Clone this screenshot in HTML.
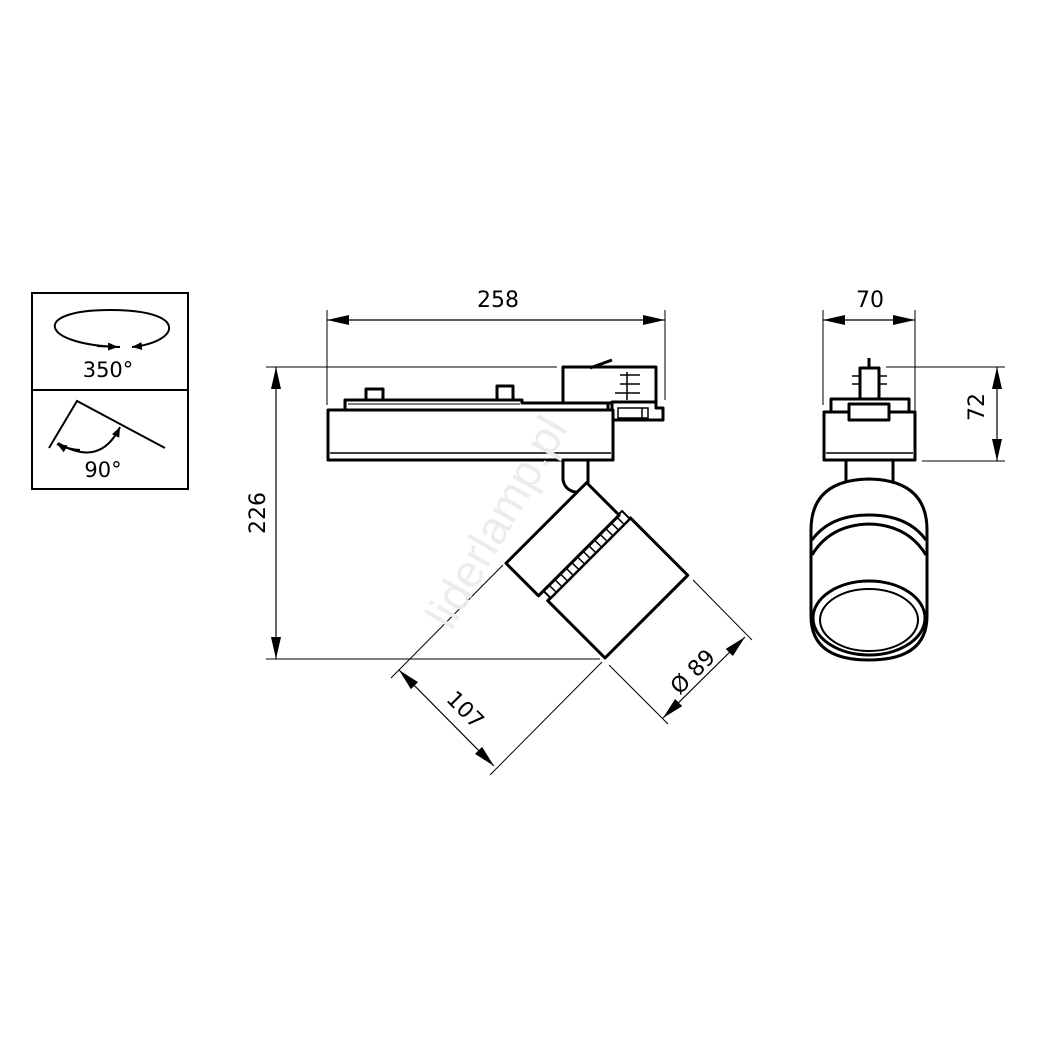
<!DOCTYPE html>
<html><head><meta charset="utf-8"><style>
html,body{margin:0;padding:0;background:#fff;}
svg{display:block;}
text{font-family:"DejaVu Sans","Liberation Sans",sans-serif;fill:#000;}
</style></head><body>
<svg width="1037" height="1037" viewBox="0 0 1037 1037" xmlns="http://www.w3.org/2000/svg">
<defs>
<marker id="ar" viewBox="0 0 22 10" refX="22" refY="5" markerWidth="22" markerHeight="10" markerUnits="userSpaceOnUse" orient="auto-start-reverse"><path d="M0,0 L22,5 L0,10 z" fill="#000"/></marker>
<marker id="sa" viewBox="0 0 10 8" refX="10" refY="4" markerWidth="10" markerHeight="8" markerUnits="userSpaceOnUse" orient="auto"><path d="M0,0 L10,4 L0,8 z" fill="#000"/></marker>
</defs>

<!-- legend box -->
<rect x="32" y="293" width="156" height="196" fill="none" stroke="#000" stroke-width="2"/>
<line x1="32" y1="390" x2="188" y2="390" stroke="#000" stroke-width="2"/>
<path d="M120,347 C40,345 30,310 110,310 C190,310 180,342 132,347" fill="none" stroke="#000" stroke-width="2" marker-end="url(#sa)"/>
<path d="M97,346 L118,347" stroke="#000" stroke-width="2" marker-end="url(#sa)"/>
<text x="108" y="377" font-size="21" text-anchor="middle">350°</text>
<polyline points="49,448 77,401 165,448" fill="none" stroke="#000" stroke-width="2"/>
<path d="M58,443 Q100,468 120,427" fill="none" stroke="#000" stroke-width="2" marker-end="url(#sa)"/>
<path d="M80,450 Q66,449 57,444" fill="none" stroke="#000" stroke-width="2" marker-end="url(#sa)"/>
<text x="103" y="477" font-size="21" text-anchor="middle">90°</text>

<!-- 258 dimension -->
<line x1="327" y1="310" x2="327" y2="405" stroke="#000" stroke-width="1"/>
<line x1="665" y1="310" x2="665" y2="400" stroke="#000" stroke-width="1"/>
<line x1="327" y1="320" x2="665" y2="320" stroke="#000" stroke-width="1.2" marker-start="url(#ar)" marker-end="url(#ar)"/>
<text x="498" y="307" font-size="22" text-anchor="middle">258</text>

<!-- 226 -->
<line x1="266" y1="367" x2="557" y2="367" stroke="#000" stroke-width="1"/>
<line x1="266" y1="659" x2="600" y2="659" stroke="#000" stroke-width="1"/>
<line x1="276" y1="367" x2="276" y2="659" stroke="#000" stroke-width="1.2" marker-start="url(#ar)" marker-end="url(#ar)"/>
<text transform="translate(265,513) rotate(-90)" font-size="22" text-anchor="middle">226</text>

<!-- side view body -->
<g fill="#fff" stroke="#000" stroke-width="3" stroke-linejoin="round">
<rect x="366" y="389" width="17" height="12"/>
<rect x="497" y="386" width="16" height="15"/>
<rect x="563" y="367" width="93" height="36"/>
<path d="M612,402 L656,402 L656,408 L663,408 L663,420 L612,420 z"/>
<path d="M345,400 L522,400 L522,403 L608,403 L608,410 L345,410 z"/>
<rect x="328" y="410" width="285" height="50"/>
<path d="M563,460 L588,460 L588,482 Q585,492 575,492 Q565,490 563,480 z"/>
</g>
<line x1="330" y1="453" x2="611" y2="453" stroke="#000" stroke-width="1.5"/>
<line x1="348" y1="404" x2="520" y2="404" stroke="#000" stroke-width="1"/>
<line x1="590" y1="368" x2="612" y2="360" stroke="#000" stroke-width="3"/>
<g stroke="#000" stroke-width="1.5">
<line x1="620" y1="375" x2="640" y2="375"/><line x1="620" y1="384" x2="640" y2="384"/>
<line x1="615" y1="393" x2="640" y2="393"/><line x1="627" y1="372" x2="627" y2="400"/>
<rect x="618" y="408" width="30" height="10" fill="none"/><line x1="642" y1="408" x2="642" y2="418"/>
</g>

<!-- cylinder -->
<g transform="translate(605,658) rotate(-45)" fill="#fff" stroke="#000" stroke-width="3" stroke-linejoin="round">
<rect x="0" y="-81" width="117" height="81"/>
<rect x="4" y="-92" width="112" height="11" stroke-width="2"/>
<rect x="-3" y="-137" width="114" height="46"/>
<g stroke-width="1.5">
<line x1="12" y1="-91" x2="12" y2="-82"/><line x1="20" y1="-91" x2="20" y2="-82"/><line x1="28" y1="-91" x2="28" y2="-82"/><line x1="36" y1="-91" x2="36" y2="-82"/><line x1="44" y1="-91" x2="44" y2="-82"/><line x1="52" y1="-91" x2="52" y2="-82"/><line x1="60" y1="-91" x2="60" y2="-82"/><line x1="68" y1="-91" x2="68" y2="-82"/><line x1="76" y1="-91" x2="76" y2="-82"/><line x1="84" y1="-91" x2="84" y2="-82"/><line x1="92" y1="-91" x2="92" y2="-82"/><line x1="100" y1="-91" x2="100" y2="-82"/><line x1="108" y1="-91" x2="108" y2="-82"/>
</g>
</g>

<!-- 107 -->
<g stroke="#000" stroke-width="1">
<line x1="503" y1="565" x2="391" y2="678"/>
<line x1="602" y1="662" x2="490" y2="775"/>
<line x1="399" y1="670" x2="494" y2="766" stroke-width="1.2" marker-start="url(#ar)" marker-end="url(#ar)"/>
<!-- Ø89 -->
<line x1="609" y1="665" x2="668" y2="724"/>
<line x1="693" y1="580" x2="752" y2="640"/>
<line x1="663" y1="718" x2="745" y2="637" stroke-width="1.2" marker-start="url(#ar)" marker-end="url(#ar)"/>
</g>
<text transform="translate(460,715) rotate(45)" font-size="22" text-anchor="middle">107</text>
<text transform="translate(698,677) rotate(-45)" font-size="22" text-anchor="middle">Ø 89</text>

<!-- right view -->
<line x1="823" y1="310" x2="823" y2="405" stroke="#000" stroke-width="1"/>
<line x1="915" y1="310" x2="915" y2="412" stroke="#000" stroke-width="1"/>
<line x1="823" y1="320" x2="915" y2="320" stroke="#000" stroke-width="1.2" marker-start="url(#ar)" marker-end="url(#ar)"/>
<text x="870" y="307" font-size="22" text-anchor="middle">70</text>
<line x1="886" y1="367" x2="1005" y2="367" stroke="#000" stroke-width="1"/>
<line x1="922" y1="461" x2="1005" y2="461" stroke="#000" stroke-width="1"/>
<line x1="997" y1="367" x2="997" y2="461" stroke="#000" stroke-width="1.2" marker-start="url(#ar)" marker-end="url(#ar)"/>
<text transform="translate(984,407) rotate(-90)" font-size="22" text-anchor="middle">72</text>

<g fill="#fff" stroke="#000" stroke-width="3" stroke-linejoin="round">
<line x1="869" y1="358" x2="869" y2="368"/>
<rect x="860" y="368" width="19" height="33"/>
<rect x="831" y="399" width="78" height="14"/>
<rect x="824" y="412" width="91" height="48"/>
<rect x="849" y="404" width="40" height="16"/>
<rect x="846" y="460" width="47" height="22"/>
<path d="M811,530 Q811,480 869,479 Q927,480 927,530 L927,616 Q927,660 869,660 Q811,660 811,616 z"/>
</g>
<line x1="826" y1="453" x2="913" y2="453" stroke="#000" stroke-width="1.5"/>
<g stroke="#000" stroke-width="1.5"><line x1="852" y1="376" x2="860" y2="376"/><line x1="852" y1="384" x2="860" y2="384"/><line x1="879" y1="376" x2="887" y2="376"/><line x1="879" y1="384" x2="887" y2="384"/></g>
<path d="M812,540 Q830,515 869,515 Q908,515 926,540" fill="none" stroke="#000" stroke-width="3"/>
<path d="M812,555 Q830,525 869,524 Q908,525 926,555" fill="none" stroke="#000" stroke-width="3"/>
<ellipse cx="869" cy="618" rx="56" ry="37" fill="none" stroke="#000" stroke-width="3"/>
<ellipse cx="869" cy="620" rx="49" ry="31" fill="none" stroke="#000" stroke-width="2"/>

<!-- watermark -->
<text transform="translate(510,530) rotate(-60)" font-size="46" text-anchor="middle" style="fill:#ececec;font-family:'Liberation Sans',sans-serif">liderlamp.pl</text>
</svg>
</body></html>
